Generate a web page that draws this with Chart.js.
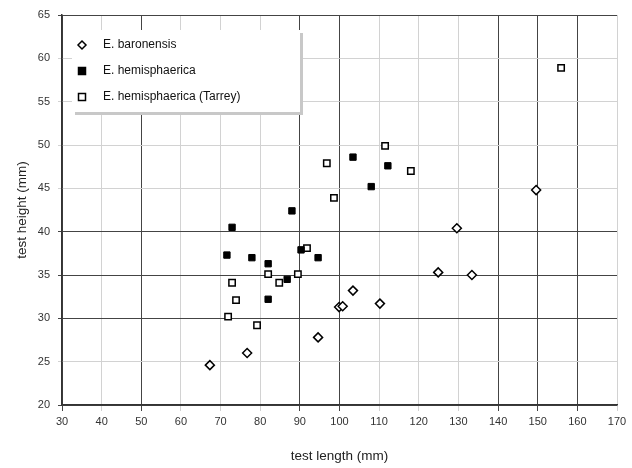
<!DOCTYPE html>
<html><head><meta charset="utf-8">
<script src="https://cdn.jsdelivr.net/npm/chart.js@4/dist/chart.umd.min.js"></script>
<style>html,body{margin:0;padding:0;background:#fff}#wrap{width:632px;height:468px}</style>
</head><body><div id="wrap"><canvas id="c" width="632" height="468"></canvas></div>
<script>
const seriesNames = ["E. baronensis", "E. hemisphaerica", "E. hemisphaerica (Tarrey)"];
const baronensisLength = [67.3, 76.7, 94.6, 99.9, 100.8, 103.4, 110.2, 124.9, 129.6, 133.4, 149.6];
const baronensisHeight = [24.6, 26.0, 27.8, 31.3, 31.4, 33.2, 31.7, 35.3, 40.4, 35.0, 44.8];
const hemiLength = [72.9, 71.6, 77.9, 82.0, 82.0, 86.8, 88.0, 90.3, 94.6, 103.4, 108.0, 112.2];
const hemiHeight = [40.5, 37.3, 37.0, 36.3, 32.2, 34.5, 42.4, 37.9, 37.0, 48.6, 45.2, 47.6];
const hemi2Length = [96.8, 98.6, 91.8, 89.5, 82.0, 84.8, 72.9, 73.9, 71.9, 79.2, 111.5, 118.0, 155.9];
const hemi2Height = [47.9, 43.9, 38.1, 35.1, 35.1, 34.1, 34.1, 32.1, 30.2, 29.2, 49.9, 47.0, 58.9];
const xTicks = [30,40,50,60,70,80,90,100,110,120,130,140,150,160,170];
const yTicks = [20,25,30,35,40,45,50,55,60,65];
const xTitle = "test length (mm)";
const yTitle = "test height (mm)";

const pts = (xs, ys) => xs.map((x, i) => ({x, y: ys[i]}));
const darkX = [30, 50, 90, 100, 140, 150, 160];
const darkY = [20, 30, 35, 40, 65];

const insideLegend = {
  id: 'insideLegend',
  afterDatasetsDraw(chart) {
    const ctx = chart.ctx;
    const x0 = 72, y0 = 30, w = 228, h = 82;
    ctx.save();
    ctx.fillStyle = '#fff';
    ctx.fillRect(x0, y0, w, h);
    ctx.fillStyle = '#c8c8c8';
    ctx.fillRect(x0 + 3, y0 + h, w, 3);
    ctx.fillRect(x0 + w, y0 + 3, 3, h);
    ctx.font = '12px "Liberation Sans", Arial, sans-serif';
    ctx.textBaseline = 'middle';
    chart.data.datasets.forEach((ds, i) => {
      const cy = 45 + i * 26, cx = 82;
      ctx.lineWidth = 1.5;
      ctx.strokeStyle = '#000';
      ctx.fillStyle = ds.backgroundColor;
      ctx.beginPath();
      if (ds.pointStyle === 'rectRot') {
        ctx.moveTo(cx, cy - 4); ctx.lineTo(cx + 4, cy); ctx.lineTo(cx, cy + 4); ctx.lineTo(cx - 4, cy); ctx.closePath();
      } else {
        ctx.rect(cx - 3.5, cy - 3.5, 7, 7);
      }
      ctx.fill(); ctx.stroke();
      ctx.fillStyle = '#111';
      ctx.fillText(ds.label, 103, cy);
    });
    ctx.restore();
  }
};

new Chart(document.getElementById('c'), {
  type: 'scatter',
  data: {
    datasets: [
      { label: seriesNames[0], data: pts(baronensisLength, baronensisHeight), pointStyle: 'rectRot',
        backgroundColor: '#fff', borderColor: '#000', borderWidth: 1.5, pointRadius: 4.5, pointHoverRadius: 4.5 },
      { label: seriesNames[1], data: pts(hemiLength, hemiHeight), pointStyle: 'rect',
        backgroundColor: '#000', borderColor: '#000', borderWidth: 1, pointRadius: 4.5, pointHoverRadius: 4.5 },
      { label: seriesNames[2], data: pts(hemi2Length, hemi2Height), pointStyle: 'rect',
        backgroundColor: '#fff', borderColor: '#000', borderWidth: 1.5, pointRadius: 4.5, pointHoverRadius: 4.5 }
    ]
  },
  options: {
    responsive: false, animation: false, devicePixelRatio: 1,
    layout: { padding: { left: 0, right: 15, top: 15, bottom: 0 } },
    plugins: { legend: { display: false }, tooltip: { enabled: false } },
    scales: {
      x: {
        type: 'linear', min: 30, max: 170,
        afterBuildTicks: s => { s.ticks = xTicks.map(v => ({value: v})); },
        afterFit: s => { s.height = 63; },
        ticks: { color: '#333', font: { family: '"Liberation Sans", Arial, sans-serif', size: 11 }, padding: 4 },
        grid: { color: c => darkX.includes(c.tick && c.tick.value) ? '#444' : '#d2d2d2', lineWidth: 1, tickLength: 6, drawOnChartArea: true },
        border: { color: '#333', width: 1.5 },
        title: { display: true, text: xTitle, color: '#222', font: { family: '"Liberation Sans", Arial, sans-serif', size: 13.5 }, padding: { top: 11 } }
      },
      y: {
        type: 'linear', min: 20, max: 65,
        afterBuildTicks: s => { s.ticks = yTicks.map(v => ({value: v})); },
        afterFit: s => { s.width = 62; },
        ticks: { color: '#333', font: { family: '"Liberation Sans", Arial, sans-serif', size: 11 }, padding: 8 },
        grid: { color: c => darkY.includes(c.tick && c.tick.value) ? '#444' : '#d2d2d2', lineWidth: 1, tickLength: 4 },
        border: { color: '#333', width: 1.5 },
        title: { display: true, text: yTitle, color: '#222', font: { family: '"Liberation Sans", Arial, sans-serif', size: 13.5 }, padding: { top: 14, bottom: 0 } }
      }
    }
  },
  plugins: [insideLegend]
});
</script></body></html>
